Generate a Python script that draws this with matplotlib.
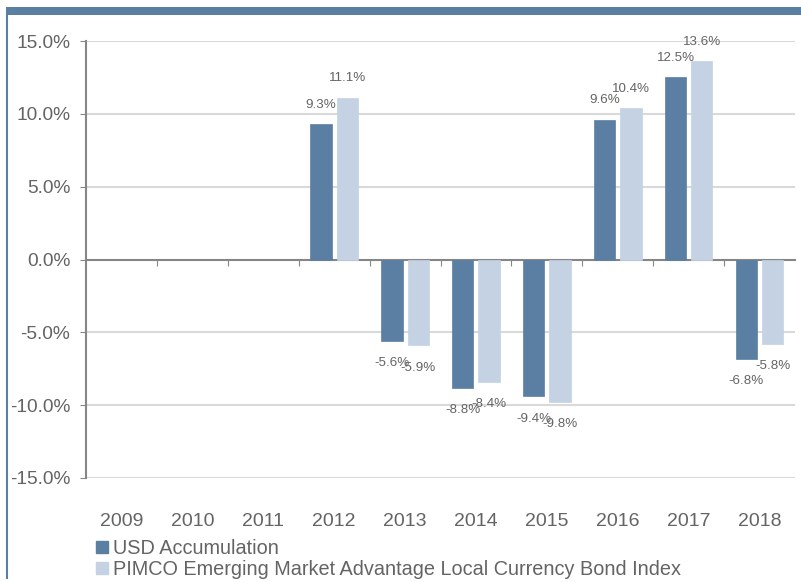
import numpy as np
import matplotlib
matplotlib.use("Agg")
import matplotlib.pyplot as plt
from matplotlib.patches import Rectangle
from matplotlib.lines import Line2D

plt.rcParams['font.family'] = ['Liberation Sans', 'DejaVu Sans']

years = ['2009', '2010', '2011', '2012', '2013', '2014', '2015', '2016', '2017', '2018']
usd_acc = [np.nan, np.nan, np.nan, 9.3, -5.6, -8.8, -9.4, 9.6, 12.5, -6.8]
bench = [np.nan, np.nan, np.nan, 11.1, -5.9, -8.4, -9.8, 10.4, 13.6, -5.8]
names = ['USD Accumulation', 'PIMCO Emerging Market Advantage Local Currency Bond Index']
colors = ['#5b7fa3', '#c5d2e3']
yticks = [15, 10, 5, 0, -5, -10, -15]

txt = '#646464'
fig = plt.figure(figsize=(8.01, 5.82), dpi=100)
ax = fig.add_axes([86/801, 1-478/582, 709/801, 437/582])

x = np.arange(len(years))
w = 0.3
off = 0.185
for i, (vals, c) in enumerate(zip([usd_acc, bench], colors)):
    xs = x + (-off if i == 0 else off)
    ax.bar(xs, vals, width=w, color=c, edgecolor=c, linewidth=0.5, zorder=3)
    for xx, v in zip(xs, vals):
        if np.isnan(v):
            continue
        dy = 14 if v > 0 else -16
        ax.annotate(f'{v:.1f}%', (xx, v), xytext=(0, dy), textcoords='offset points',
                    ha='center', va='center', fontsize=9.6, color=txt, zorder=4)

ax.set_xlim(-0.5, len(years)-0.5)
ax.set_ylim(-15, 15)
ax.set_yticks(yticks)
ax.set_yticklabels([f'{t:.1f}%' for t in yticks], fontsize=13.8, color=txt)
ax.tick_params(axis='y', length=4.3, color='#868686', pad=7)
for t in yticks:
    if t != 0:
        ax.axhline(t, color='#d9d9d9', linewidth=1.5, zorder=1)

for s in ['top', 'right']:
    ax.spines[s].set_visible(False)
ax.spines['left'].set_color('#868686')
ax.spines['left'].set_linewidth(1.5)
ax.spines['bottom'].set_position(('data', 0))
ax.spines['bottom'].set_color('#868686')
ax.spines['bottom'].set_linewidth(1.5)
ax.set_xticks(np.arange(0.5, len(years)-0.5))
ax.set_xticklabels([])
ax.tick_params(axis='x', length=4, color='#868686', direction='out')
for xx, y in zip(x, years):
    ax.text(xx, -0.1, y, transform=ax.get_xaxis_transform(), ha='center', va='center',
            fontsize=14, color=txt)

# frame lines at top and left
fig.add_artist(Rectangle((6/801, 1-15/582), 795/801, 8/582, transform=fig.transFigure,
                         color='#5b7fa3', lw=0))
fig.add_artist(Line2D([7/801, 7/801], [1-15/582, 1-578/582], transform=fig.transFigure,
                      color='#5b7fa3', lw=1.5))

handles = [Rectangle((0, 0), 1, 1, color=c) for c in colors]
fig.legend(handles, names, loc='upper left', bbox_to_anchor=(96/801, 1-539/582),
           frameon=False, fontsize=14.3, handlelength=0.6, handleheight=0.6,
           handletextpad=0.25, borderpad=0, borderaxespad=0, labelspacing=0.1,
           labelcolor=txt)

fig.savefig('out.png', dpi=100)
